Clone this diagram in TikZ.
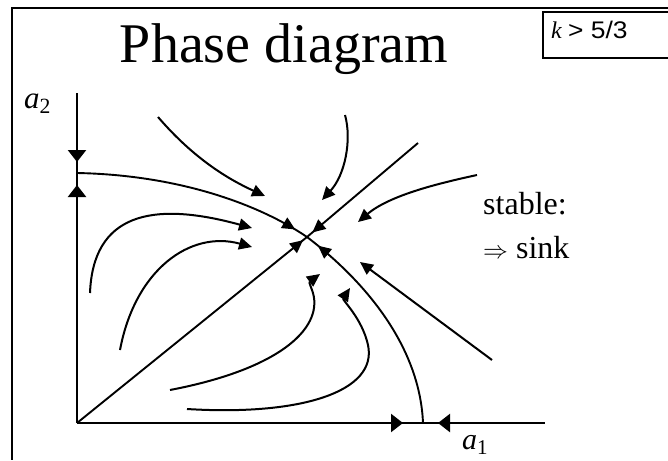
\documentclass[tikz,border=0pt]{standalone}
\usepackage{fontspec}
\setmainfont{Liberation Serif}
\newfontfamily\boxfont[FakeStretch=1.1]{Liberation Sans}
\usepackage{tikz}
\usetikzlibrary{arrows.meta,decorations.markings}
\tikzset{
  axistip/.tip={Triangle[length=12pt,width=18pt]},
  flowtip/.tip={Triangle[length=13pt,width=12pt]}
}

\begin{document}
\begin{tikzpicture}[x=1pt,y=-1pt,
    flow/.style={line width=2pt,-flowtip},
    axisline/.style={line width=2.2pt},
    inmark/.style={line width=1.9pt,postaction={decorate},
      decoration={markings,mark=at position #1 with {\arrow{flowtip}}}},
    twinmarks/.style 2 args={postaction={decorate},
      decoration={markings,
        mark=at position #1 with {\arrow{axistip}},
        mark=at position #2 with {\arrowreversed{axistip}}}}]
    \useasboundingbox (0,0) rectangle (668,460);
    \draw[line width=1.6pt] (668,8) -- (12,8) -- (12,460);
    \draw[line width=1.2pt] (668,12) -- (543,12) -- (543,58) -- (668,58);
    \node (title) at (284,63) [anchor=base]
      {\fontsize{56}{60}\selectfont Phase diagram};
    \node (cond) at (551,39) [anchor=base west,inner sep=0pt]
      {\fontsize{24}{28}\selectfont\textit{k} {\boxfont > 5/3}};
    \node (stable) at (483,214) [anchor=base west,inner sep=0pt]
      {\fontsize{32}{36}\selectfont stable:};
    \node (sink) at (483,258) [anchor=base west,inner sep=0pt]
      {\fontsize{32}{36}\selectfont $\Rightarrow$ sink};
    \coordinate (O) at (77,423);
    \coordinate (Ytop) at (77,93);
    \coordinate (Xend) at (545,423);
    \coordinate (C) at (307,237);
    \coordinate (Y0) at (77,173);
    \coordinate (X0) at (423,423);
    \coordinate (D) at (418,143);
    \node (a2) at (24,108) [anchor=base west,inner sep=0pt]
      {\fontsize{31}{34}\selectfont\textit{a}\textsubscript{2}};
    \node (a1) at (462,449) [anchor=base west,inner sep=0pt]
      {\fontsize{30}{34}\selectfont\textit{a}\textsubscript{1}};
    \draw[axisline,twinmarks={69pt}{92pt}] (Ytop) -- (O);
    \draw[axisline,twinmarks={326pt}{361pt}] (O) -- (Xend);
    \draw[inmark=-14pt] (Y0) .. controls (180,175) and (260,205) .. (C);
    \draw[inmark=-14pt] (X0) .. controls (420,350) and (370,285) .. (C);
    \draw[inmark=-5pt] (O) -- (C);
    \draw[inmark=-7pt] (D) -- (C);
    \draw[flow] (158,117) .. controls (195,160) and (230,180) .. (265,196);
    \draw[flow] (345,115) .. controls (352,140) and (345,175) .. (322,200);
    \draw[flow] (477,175) .. controls (440,183) and (390,195) .. (358,222);
    \draw[flow] (492,360) -- (360,262);
    \draw[flow] (90,293) .. controls (93,215) and (150,200) .. (252,228);
    \draw[flow] (120,350) .. controls (135,270) and (190,230) .. (252,247);
    \draw[flow] (170,390) .. controls (285,368) and (325,325) .. (312,290)
      .. controls (309,282) .. (320,274);
    \draw[flow] (187,409) .. controls (300,416) and (378,392) .. (368,345)
      .. controls (362,318) and (342,300) .. (350,288);
\end{tikzpicture}
\end{document}
